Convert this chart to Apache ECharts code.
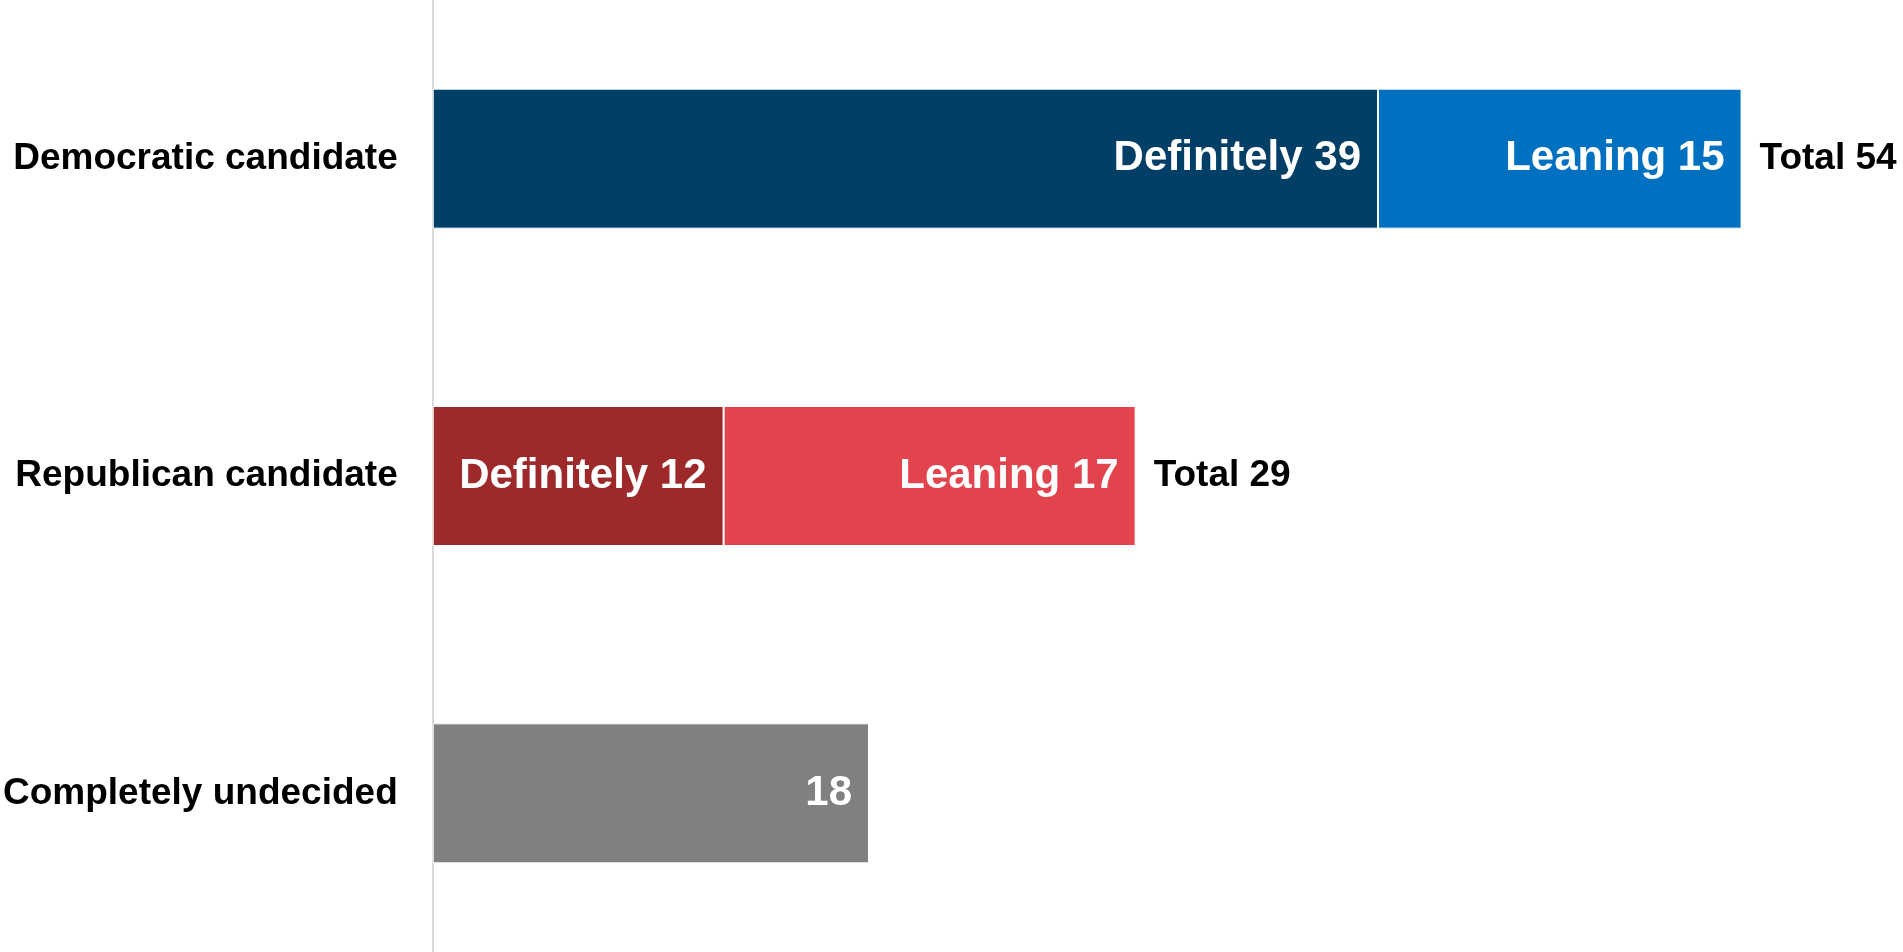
<!DOCTYPE html>
<html lang="en">
<head>
    <meta charset="UTF-8">
    <title>Candidate preference</title>
    <style>
        html, body { margin: 0; padding: 0; background: #fff; }
        #main { width: 1903px; height: 952px; }
    </style>
</head>
<body>
    <div id="main"></div>
    <script src="https://cdn.jsdelivr.net/npm/echarts@6/dist/echarts.min.js"></script>
    <script>
        const categories = ['Democratic candidate', 'Republican candidate', 'Completely undecided'];
        const definitely = [39, 12, '-'];
        const leaning = [15, 17, '-'];
        const undecided = ['-', '-', 18];
        const totals = [54, 29, '-'];
        const definitelyColors = ['#023F66', '#9E292A'];
        const leaningColors = ['#0070C0', '#E2444D'];

        const font = '"Liberation Sans", Arial, sans-serif';
        const chart = echarts.init(document.getElementById('main'));

        function colored(values, colors) {
            return values.map((v, i) => v === '-' ? v : { value: v, itemStyle: { color: colors[i] } });
        }

        const insideLabel = (prefix) => ({
            show: true,
            position: 'insideRight',
            distance: 17,
            color: '#fff',
            fontFamily: font,
            fontWeight: 'bold',
            fontSize: 42,
            padding: [4, 0, 0, 0],
            formatter: p => prefix + p.value
        });

        const option = {
            animation: false,
            grid: { left: 425, top: 0, width: 1462, height: 952 },
            xAxis: {
                type: 'value', min: 0, max: 60,
                show: false, splitLine: { show: false }
            },
            yAxis: {
                type: 'category',
                data: categories,
                inverse: true,
                axisLine: { show: true, lineStyle: { color: '#d9d9d9', width: 2 } },
                axisTick: { show: false },
                axisLabel: {
                    margin: 35,
                    color: '#000',
                    fontFamily: font,
                    fontWeight: 'bold',
                    fontSize: 37,
                    padding: [4, 0, 0, 0]
                }
            },
            series: [
                {
                    name: 'Definitely', type: 'bar', stack: 'all', barWidth: 140,
                    data: colored(definitely, definitelyColors),
                    itemStyle: { borderColor: '#fff', borderWidth: 1 },
                    label: insideLabel('Definitely ')
                },
                {
                    name: 'Leaning', type: 'bar', stack: 'all', barWidth: 140,
                    data: colored(leaning, leaningColors),
                    itemStyle: { borderColor: '#fff', borderWidth: 1 },
                    label: insideLabel('Leaning ')
                },
                {
                    name: 'Undecided', type: 'bar', stack: 'all', barWidth: 140,
                    data: undecided,
                    itemStyle: { color: '#808080', borderColor: '#fff', borderWidth: 1 },
                    label: insideLabel('')
                },
                {
                    name: 'Total', type: 'scatter', symbolSize: 0,
                    itemStyle: { opacity: 1 },
                    data: totals.map((v, i) => v === '-' ? null : [v, categories[i]]).filter(Boolean),
                    label: {
                        show: true,
                        position: 'right',
                        distance: 18,
                        color: '#000',
                        fontFamily: font,
                        fontWeight: 'bold',
                        fontSize: 37,
                        padding: [4, 0, 0, 0],
                        formatter: p => 'Total ' + p.value[0]
                    }
                }
            ]
        };
        chart.setOption(option);
    </script>
</body>
</html>
